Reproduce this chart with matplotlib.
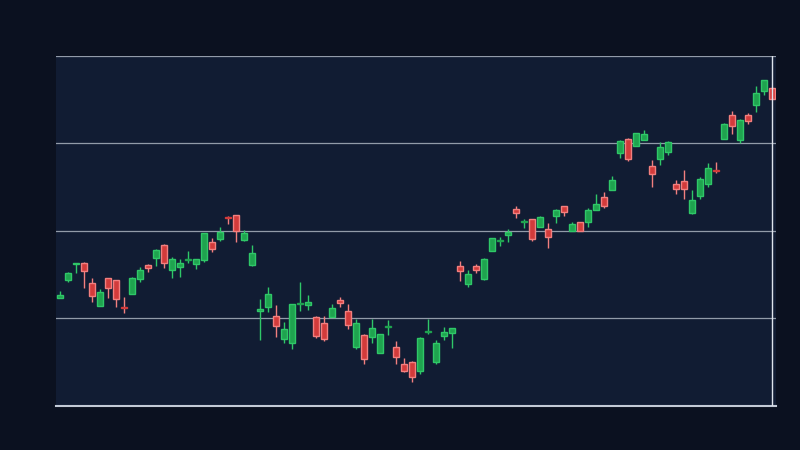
import matplotlib
matplotlib.use("Agg")
import matplotlib.pyplot as plt
import numpy as np

# OHLC values (arbitrary price units)
opens = [157.5, 175.5, 191.5, 193, 172.7, 150.3, 177.7, 175.7, 148.5, 162.3,
         177.3, 190.7, 198.3, 210.7, 186.3, 189.3, 195.5, 192.3, 196, 214,
         217.3, 238.7, 240.7, 216.3, 191.3, 145, 149.3, 139.7, 117.3, 113.3,
         152, 150.7, 138.7, 132.7, 139.3, 155.7, 144.7, 109.3, 120.7, 119.3,
         103.3, 128.7, 108.7, 91.7, 93.7, 85.3, 124, 94.3, 120.3, 123.3,
         190, 172.3, 190, 177.3, 205.3, 215, 221.3, 247, 234.3, 237,
         229.3, 227, 240.3, 249.7, 225.3, 233.7, 234.3, 245.7, 258.7, 266.3,
         303.3, 317, 310.3, 316.3, 290, 297.3, 304.3, 272, 275, 243,
         260.3, 272.3, 285.7, 317.3, 341, 316.3, 341, 351.3, 365.3, 368]
highs = [165, 184, 193, 194, 178, 166.7, 177.7, 176, 159, 179,
         189, 192, 207.3, 212, 198.7, 197, 205, 196.7, 222.7, 218,
         229, 240, 240.7, 226, 211, 157, 169, 151, 134, 151.7,
         173.7, 161, 139.7, 139.7, 152, 158.7, 152, 137.3, 121.7, 137.3,
         121.7, 136, 115, 98, 95.3, 118.7, 137, 115.7, 128.7, 127.7,
         195, 186, 192, 198, 218, 219, 227, 250, 237, 237,
         239.7, 233, 247, 249.7, 234, 233.7, 248, 262, 264, 280,
         316, 318, 322.7, 326, 296, 314, 315, 276, 286, 266,
         279, 293, 294, 332.7, 345, 336.5, 343, 370, 376, 369]
lows = [157.5, 174.3, 183.3, 168.3, 154.3, 150.3, 158.3, 149.3, 143, 162.3,
        174.3, 184, 190.3, 188.3, 178, 179, 193, 187.3, 194, 204,
        215, 232, 214, 215.3, 190, 116, 144.3, 119.3, 112.7, 107.3,
        145.3, 146.3, 118.3, 115.3, 139.3, 149.3, 127.3, 107.3, 92.3, 113.3,
        103.3, 121, 92.3, 84.3, 74.3, 82.3, 122.3, 92.3, 116.3, 108.3,
        175, 169, 183, 176, 205.3, 210, 214.3, 238.3, 228, 215.3,
        229.3, 208.3, 233.3, 240.3, 225.3, 224.7, 229.3, 245.7, 248.3, 266.3,
        298.3, 295.3, 310.3, 316.3, 269, 291, 301.3, 262, 257, 242,
        257, 269.3, 283, 317.3, 322.3, 313, 332.3, 344.3, 361.3, 357]
closes = [161, 183, 193, 185.3, 160.3, 163.7, 168.3, 157.3, 147.5, 178,
          185.7, 188.3, 205.7, 192.7, 196.7, 193, 196.5, 196.7, 222.7, 207.3,
          224, 238, 225, 223, 202.7, 146.5, 161.7, 130.3, 126.7, 151.7,
          152.7, 153.7, 120.3, 117, 147.7, 153.3, 130.7, 132.7, 97.3, 127.7,
          121.7, 129.3, 99.3, 85.3, 79.3, 117.7, 124.7, 112.7, 124, 127.7,
          185.3, 182, 186.3, 197, 218, 215.7, 224.3, 243.3, 235, 216.7,
          239, 218.7, 246, 243.7, 231.7, 224.7, 246, 251.7, 250.3, 276,
          315, 297, 322.7, 322, 282.3, 309, 314, 267.3, 267.3, 256,
          277, 288, 285, 332, 330.3, 336, 335.3, 363, 376, 357.3]

BG = "#0b1120"
PANEL = "#111c33"
UP_FACE, UP_EDGE = "#1fa34f", "#2fc768"
DOWN_FACE, DOWN_EDGE = "#d23b3b", "#f27f7f"

o = np.array(opens)
h = np.array(highs)
l = np.array(lows)
c = np.array(closes)
x = np.arange(len(o))
up = c >= o
doji = np.abs(c - o) < 1.5

fig = plt.figure(figsize=(8, 4.5), dpi=100, facecolor=BG)
ax = fig.add_axes([0.07, 0.0978, 0.90, 0.7778])
ax.set_facecolor(PANEL)

# wicks
ax.vlines(x[up], l[up], h[up], color=UP_EDGE, linewidth=1, zorder=2)
ax.vlines(x[~up], l[~up], h[~up], color=DOWN_EDGE, linewidth=1, zorder=2)

# bodies (dojis drawn solid so they read as a flat bar)
body = np.maximum(np.abs(c - o), 0.8)
bottom = np.minimum(o, c)
for mask, face, edge in [(up & ~doji, UP_FACE, UP_EDGE),
                         (~up & ~doji, DOWN_FACE, DOWN_EDGE),
                         (up & doji, UP_FACE, UP_FACE),
                         (~up & doji, DOWN_FACE, DOWN_FACE)]:
    ax.bar(x[mask], body[mask], bottom=bottom[mask], width=0.68,
           color=face, edgecolor=edge, linewidth=1, zorder=3)

ax.set_xlim(-0.5, len(o) - 0.5)
ax.set_ylim(50, 400)
ax.set_yticks(np.linspace(50, 400, 5))
ax.set_xticks([])
ax.tick_params(left=False, labelleft=False, bottom=False, labelbottom=False)
ax.grid(axis="y", color="#b4bcc8", linewidth=0.9, alpha=0.8, zorder=1)

for side in ["left", "right", "top"]:
    ax.spines[side].set_visible(False)
ax.spines["bottom"].set_color("#c3cad6")
ax.spines["bottom"].set_linewidth(1.5)

# marker for latest candle
ax.axvline(x[-1], color="#dfe4ec", linewidth=1, zorder=4)

fig.savefig("out.png", dpi=100, facecolor=BG)
